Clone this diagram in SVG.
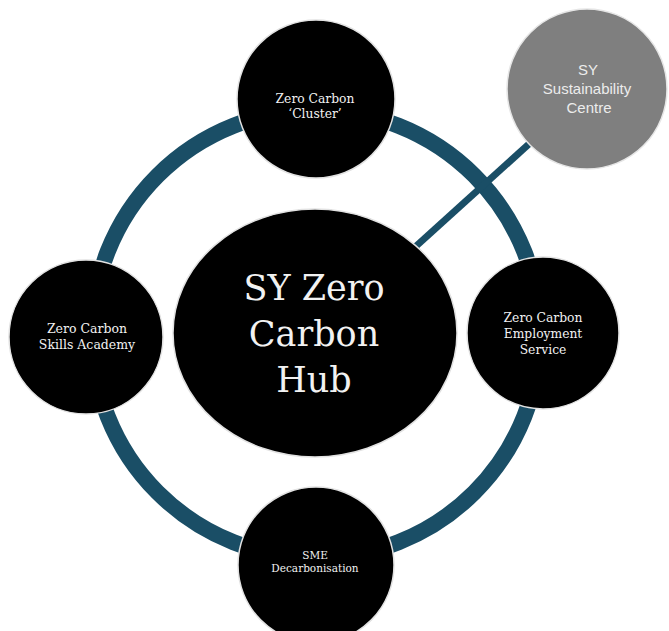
<svg xmlns="http://www.w3.org/2000/svg" width="669" height="631" viewBox="0 0 669 631">
<style>
.node{fill:#000;stroke:#e2e2e2;stroke-width:1.5}
.gray{fill:#7f7f7f;stroke:#e6e6e6;stroke-width:1.5}
.t{font-family:"DejaVu Serif","Liberation Serif",serif;fill:#f2f2f2;text-anchor:middle}
.s{font-family:"Liberation Sans","DejaVu Sans",sans-serif;fill:#ececec;text-anchor:middle;font-size:15px}
.conn{fill:none;stroke:#1a4e66}
</style>
<rect width="669" height="631" fill="#fff"/>
<g id="connectors">
<circle class="conn" cx="316" cy="334" r="224" stroke-width="16"/>
<line class="conn" x1="414" y1="248" x2="540" y2="134" stroke-width="7"/>
</g>
<g id="hub">
<ellipse class="node" cx="315" cy="333" rx="142" ry="124"/>
<text class="t" font-size="35" x="314" y="300">SY Zero</text>
<text class="t" font-size="35" x="314" y="346">Carbon</text>
<text class="t" font-size="35" x="314" y="392">Hub</text>
</g>
<g id="cluster">
<circle class="node" cx="316" cy="99" r="79"/>
<text class="t" font-size="12.3" x="315" y="103">Zero Carbon</text>
<text class="t" font-size="12.3" x="315" y="118">‘Cluster’</text>
</g>
<g id="skills">
<circle class="node" cx="86" cy="337" r="77"/>
<text class="t" font-size="12.5" x="87" y="333">Zero Carbon</text>
<text class="t" font-size="12.5" x="87" y="349">Skills Academy</text>
</g>
<g id="employment">
<circle class="node" cx="543" cy="333" r="76"/>
<text class="t" font-size="12.3" x="543" y="322">Zero Carbon</text>
<text class="t" font-size="12.3" x="543" y="338">Employment</text>
<text class="t" font-size="12.3" x="543" y="354">Service</text>
</g>
<g id="sme">
<circle class="node" cx="316" cy="565" r="78"/>
<text class="t" font-size="10.5" x="315" y="559">SME</text>
<text class="t" font-size="10.5" x="315" y="572">Decarbonisation</text>
</g>
<g id="sustainability">
<circle class="gray" cx="587" cy="89" r="80"/>
<text class="s" x="588" y="75">SY</text>
<text class="s" x="587" y="94">Sustainability</text>
<text class="s" x="589" y="113">Centre</text>
</g>
</svg>
